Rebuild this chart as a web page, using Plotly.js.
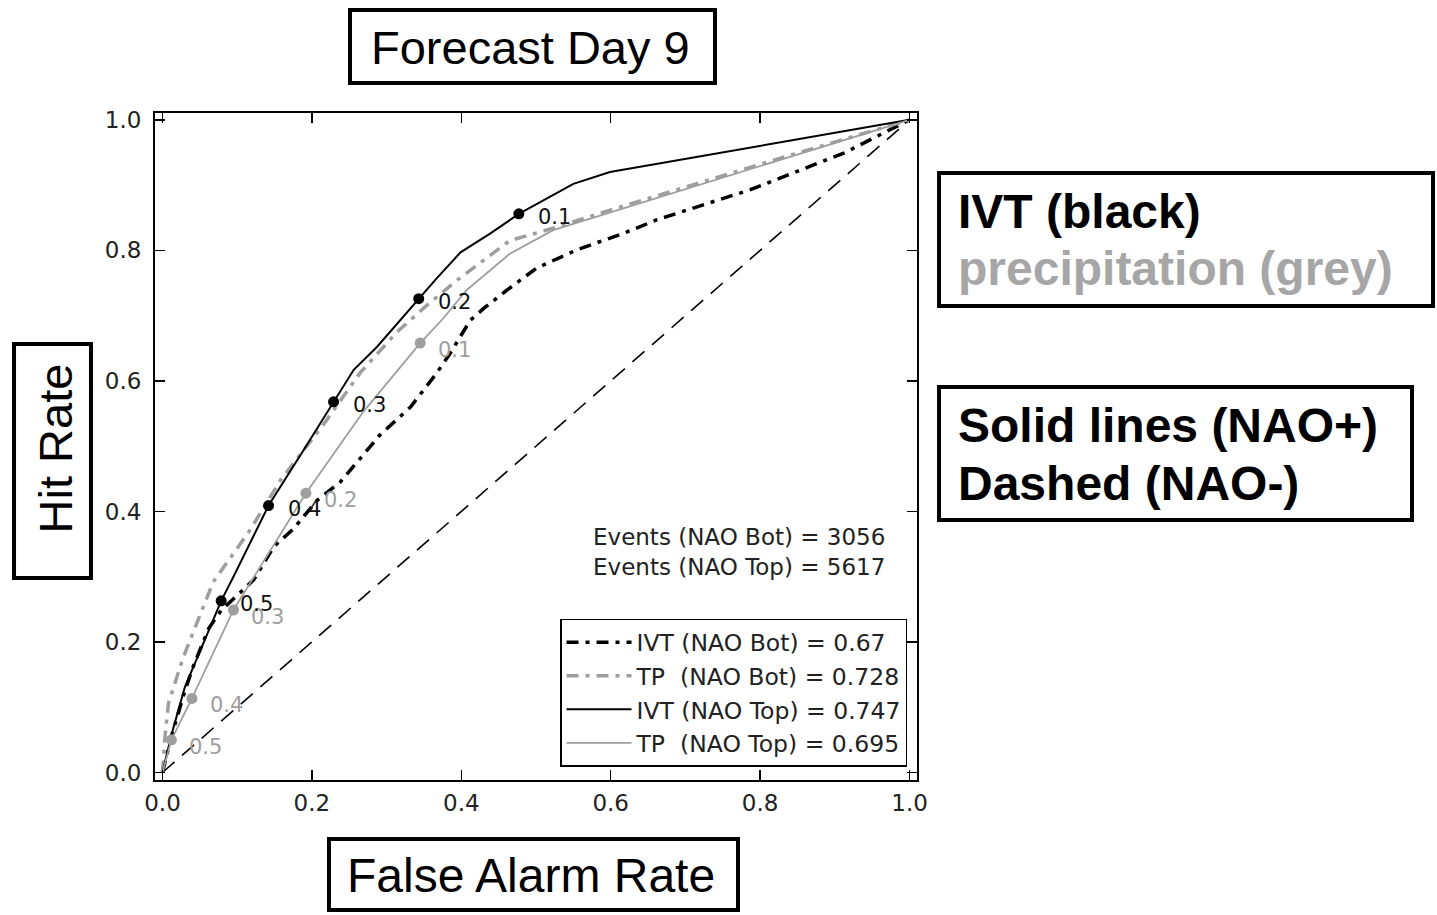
<!DOCTYPE html>
<html>
<head>
<meta charset="utf-8">
<script src="https://cdn.plot.ly/plotly-3.0.1.min.js"></script>
<style>html,body{margin:0;padding:0;background:#fff;}#chart{width:1437px;height:915px;}</style>
</head>
<body>
<div id="chart"></div>
<script>
// ---- data ----
const diagX = [0, 1];
const diagY = [0, 1];

const ivtBotX = [0, 0.0126, 0.030, 0.041, 0.062, 0.079, 0.122, 0.149, 0.175, 0.207, 0.238, 0.251, 0.291, 0.332, 0.367, 0.385, 0.412, 0.430, 0.461, 0.501, 0.555, 0.617, 0.662, 0.787, 0.912, 1.0];
const ivtBotY = [0, 0.058, 0.125, 0.162, 0.221, 0.249, 0.295, 0.346, 0.373, 0.417, 0.445, 0.463, 0.517, 0.560, 0.612, 0.642, 0.693, 0.711, 0.739, 0.773, 0.801, 0.826, 0.847, 0.893, 0.949, 1.0];

const tpBotX = [0, 0.003, 0.008, 0.028, 0.037, 0.068, 0.117, 0.158, 0.216, 0.265, 0.314, 0.356, 0.394, 0.465, 0.523, 0.600, 0.800, 1.0];
const tpBotY = [0, 0.050, 0.106, 0.177, 0.203, 0.292, 0.371, 0.448, 0.534, 0.613, 0.675, 0.718, 0.754, 0.815, 0.834, 0.862, 0.932, 1.0];

const ivtTopX = [0, 0.0126, 0.030, 0.0507, 0.0786, 0.095, 0.142, 0.189, 0.229, 0.256, 0.287, 0.318, 0.343, 0.367, 0.399, 0.439, 0.477, 0.550, 0.599, 1.0];
const ivtTopY = [0, 0.060, 0.131, 0.187, 0.263, 0.300, 0.409, 0.494, 0.568, 0.617, 0.652, 0.693, 0.726, 0.757, 0.797, 0.826, 0.856, 0.902, 0.920, 1.0];

const tpTopX = [0, 0.012, 0.0394, 0.095, 0.192, 0.269, 0.345, 0.376, 0.407, 0.465, 0.523, 1.0];
const tpTopY = [0, 0.050, 0.1135, 0.249, 0.428, 0.553, 0.658, 0.696, 0.739, 0.795, 0.831, 1.0];

const thresholds = ['0.1', '0.2', '0.3', '0.4', '0.5'];
const ivtTopMarkX = [0.477, 0.343, 0.229, 0.142, 0.0786];
const ivtTopMarkY = [0.856, 0.726, 0.568, 0.409, 0.263];
const tpTopMarkX = [0.345, 0.192, 0.095, 0.0394, 0.012];
const tpTopMarkY = [0.658, 0.428, 0.249, 0.1135, 0.050];

const legendNames = ['IVT (NAO Bot) = 0.67', 'TP  (NAO Bot) = 0.728', 'IVT (NAO Top) = 0.747', 'TP  (NAO Top) = 0.695'];
const eventsText = ['Events (NAO Bot) = 3056', 'Events (NAO Top) = 5617'];
const tickVals = [0, 0.2, 0.4, 0.6, 0.8, 1.0];
const tickLabels = ['0.0', '0.2', '0.4', '0.6', '0.8', '1.0'];

const titleText = 'Forecast Day 9';
const xTitle = 'False Alarm Rate';
const yTitle = 'Hit Rate';
const note1 = ['IVT (black)', 'precipitation (grey)'];
const note2 = ['Solid lines (NAO+)', 'Dashed (NAO-)'];

// ---- styles ----
const BLACK = '#000000';
const GREY = '#9e9e9e';
const DASHDOT = '12px,7px,4px,7px';
const TICKFONT = {family: 'DejaVu Sans', size: 23, color: '#222222'};

const traces = [
  {x: diagX, y: diagY, mode: 'lines', line: {color: BLACK, width: 1.6, dash: '16px,10px'}, showlegend: false, hoverinfo: 'skip'},
  {x: ivtBotX, y: ivtBotY, mode: 'lines', name: legendNames[0], line: {color: BLACK, width: 3.5, dash: DASHDOT}},
  {x: tpBotX, y: tpBotY, mode: 'lines', name: legendNames[1], line: {color: GREY, width: 3.5, dash: DASHDOT}},
  {x: ivtTopX, y: ivtTopY, mode: 'lines', name: legendNames[2], line: {color: BLACK, width: 2}},
  {x: tpTopX, y: tpTopY, mode: 'lines', name: legendNames[3], line: {color: GREY, width: 1.8}},
  {x: ivtTopMarkX, y: ivtTopMarkY, mode: 'markers', marker: {color: BLACK, size: 11}, showlegend: false},
  {x: tpTopMarkX, y: tpTopMarkY, mode: 'markers', marker: {color: GREY, size: 11}, showlegend: false}
];

const annotations = [];
thresholds.forEach((t, i) => {
  annotations.push({x: ivtTopMarkX[i], y: ivtTopMarkY[i], xref: 'x', yref: 'y', text: t, showarrow: false,
    xanchor: 'left', yanchor: 'middle', xshift: 17, yshift: -3,
    font: {family: 'DejaVu Sans', size: 21, color: '#111111'}});
  annotations.push({x: tpTopMarkX[i], y: tpTopMarkY[i], xref: 'x', yref: 'y', text: t, showarrow: false,
    xanchor: 'left', yanchor: 'middle', xshift: 16, yshift: -7,
    font: {family: 'DejaVu Sans', size: 21, color: GREY}});
});
annotations.push({x: 0.9606, y: 0.3411, xref: 'paper', yref: 'paper', text: eventsText.join('<br>'), align: 'right',
  showarrow: false, xanchor: 'right', yanchor: 'middle', font: {family: 'DejaVu Sans', size: 23, color: '#222222'}});
// box texts
const SANS = 'Liberation Sans, Arial, sans-serif';
annotations.push({x: 0.4934, y: 1.0982, xref: 'paper', yref: 'paper', text: titleText, showarrow: false,
  xanchor: 'center', yanchor: 'middle', font: {family: SANS, size: 47, color: '#000'}});
annotations.push({x: 0.4934, y: -0.1430, xref: 'paper', yref: 'paper', text: xTitle, showarrow: false,
  xanchor: 'center', yanchor: 'middle', font: {family: SANS, size: 48, color: '#000'}});
annotations.push({x: -0.1306, y: 0.4978, xref: 'paper', yref: 'paper', text: yTitle, showarrow: false, textangle: -90,
  xanchor: 'center', yanchor: 'middle', font: {family: SANS, size: 47, color: '#000'}});
annotations.push({x: 1.0512, y: 0.8520, xref: 'paper', yref: 'paper', text: '<b>' + note1[0] + '</b>', showarrow: false,
  xanchor: 'left', yanchor: 'middle', font: {family: SANS, size: 48, color: '#000'}});
annotations.push({x: 1.0512, y: 0.7670, xref: 'paper', yref: 'paper', text: '<b>' + note1[1] + '</b>', showarrow: false,
  xanchor: 'left', yanchor: 'middle', font: {family: SANS, size: 48, color: '#a6a6a6'}});
annotations.push({x: 1.0512, y: 0.5322, xref: 'paper', yref: 'paper', text: '<b>' + note2[0] + '</b>', showarrow: false,
  xanchor: 'left', yanchor: 'middle', font: {family: SANS, size: 48, color: '#000'}});
annotations.push({x: 1.0512, y: 0.4447, xref: 'paper', yref: 'paper', text: '<b>' + note2[1] + '</b>', showarrow: false,
  xanchor: 'left', yanchor: 'middle', font: {family: SANS, size: 48, color: '#000'}});

const boxLine = {color: '#000', width: 4};
const shapes = [
  {type: 'rect', xref: 'paper', yref: 'paper', x0: 0.2559, x1: 0.7349, y0: 1.0450, y1: 1.1544, line: boxLine},
  {type: 'rect', xref: 'paper', yref: 'paper', x0: -0.1850, x1: -0.0840, y0: 0.3028, y1: 0.6537, line: boxLine},
  {type: 'rect', xref: 'paper', yref: 'paper', x0: 0.2283, x1: 0.7651, y0: -0.1949, y1: -0.0885, line: boxLine},
  {type: 'rect', xref: 'paper', yref: 'paper', x0: 1.0289, x1: 1.6772, y0: 0.7106, y1: 0.9100, line: boxLine},
  {type: 'rect', xref: 'paper', yref: 'paper', x0: 1.0289, x1: 1.6496, y0: 0.3898, y1: 0.5892, line: boxLine}
];

const axisCommon = {
  tickvals: tickVals, ticktext: tickLabels, ticks: 'inside', ticklen: 10, tickwidth: 1.3, tickcolor: '#000',
  showline: true, linewidth: 2, linecolor: '#000', mirror: 'allticks', showgrid: false, zeroline: false,
  tickfont: TICKFONT, fixedrange: true
};

const layout = {
  width: 1437, height: 915,
  margin: {l: 155, r: 520, t: 113, b: 135, pad: 0},
  paper_bgcolor: '#ffffff', plot_bgcolor: '#ffffff',
  xaxis: Object.assign({}, axisCommon, {range: [-0.01, 1.01], ticklabelstandoff: 1}),
  yaxis: Object.assign({}, axisCommon, {range: [-0.0115, 1.0105], ticklabelstandoff: 7}),
  showlegend: true,
  legend: {x: 0.9869, y: 0.0195, xanchor: 'right', yanchor: 'bottom', bgcolor: '#ffffff', bordercolor: '#000',
    borderwidth: 1.5, font: {family: 'DejaVu Sans', size: 23.5, color: '#222222'}, itemwidth: 65, tracegroupgap: 0},
  annotations: annotations,
  shapes: shapes
};

Plotly.newPlot('chart', traces, layout, {displayModeBar: false, staticPlot: true});
</script>
</body>
</html>
